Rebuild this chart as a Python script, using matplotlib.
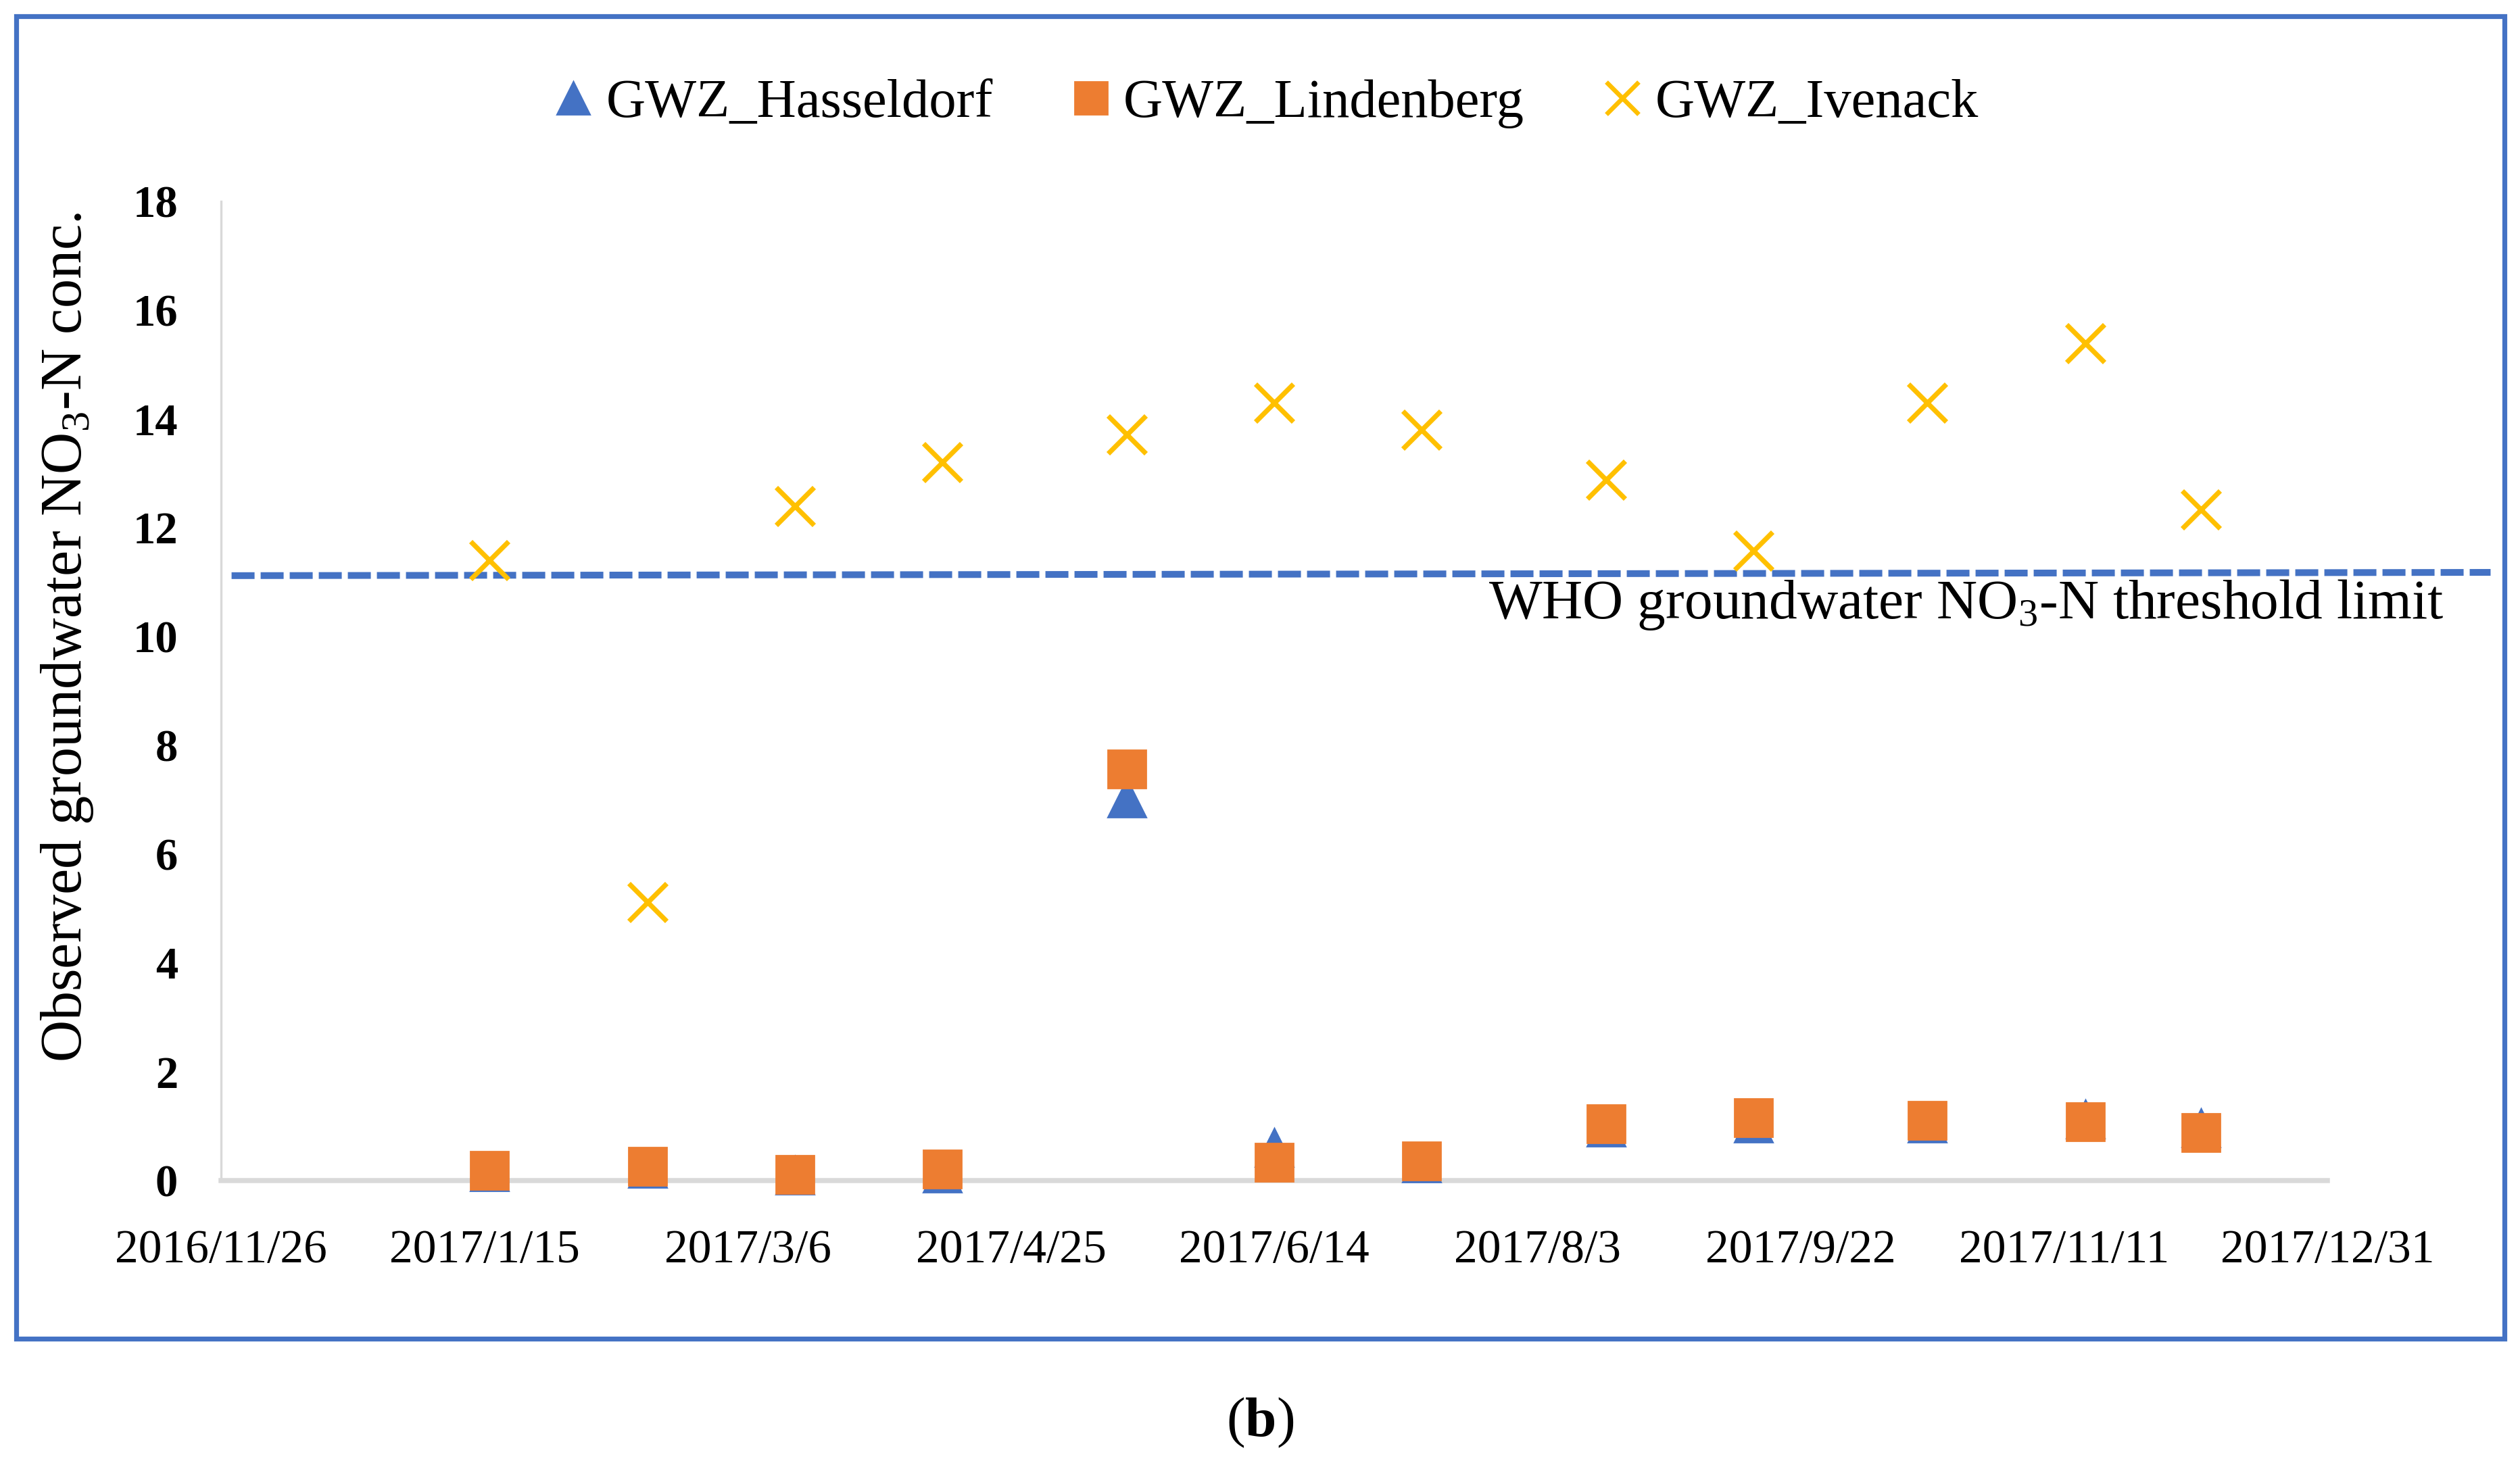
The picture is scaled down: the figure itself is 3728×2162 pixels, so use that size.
import matplotlib
matplotlib.use("Agg")
import matplotlib.pyplot as plt
from matplotlib.lines import Line2D
from matplotlib.patches import Rectangle
import datetime as dt

# ---------------- data ----------------
sample_dates = ["2017-01-16", "2017-02-15", "2017-03-15", "2017-04-12", "2017-05-17", "2017-06-14",
                "2017-07-12", "2017-08-16", "2017-09-13", "2017-10-16", "2017-11-15", "2017-12-07"]
hasseldorf = [0.16, 0.22, 0.10, 0.14, 7.03, 0.61, 0.32, 0.98, 1.05, 1.05, 1.13, 0.97]
lindenberg = [0.19, 0.26, 0.11, 0.21, 7.57, 0.33, 0.36, 1.04, 1.15, 1.11, 1.08, 0.88]
ivenack = [11.40, 5.12, 12.40, 13.20, 13.71, 14.30, 13.80, 12.88, 11.58, 14.30, 15.39, 12.34]
threshold_dates = ["2016-11-28", "2018-01-31"]
threshold_vals = [11.12, 11.18]
xtick_labels = ["2016/11/26", "2017/1/15", "2017/3/6", "2017/4/25", "2017/6/14",
                "2017/8/3", "2017/9/22", "2017/11/11", "2017/12/31"]
ytick_vals = [0, 2, 4, 6, 8, 10, 12, 14, 16, 18]
series_names = ["GWZ_Hasseldorf", "GWZ_Lindenberg", "GWZ_Ivenack"]

# ---------------- style ----------------
plt.rcParams["font.family"] = ["Liberation Serif", "DejaVu Serif"]
plt.rcParams["mathtext.fontset"] = "custom"
plt.rcParams["mathtext.rm"] = "Liberation Serif"
plt.rcParams["mathtext.bf"] = "Liberation Serif:bold"
plt.rcParams["mathtext.it"] = "Liberation Serif:italic"
plt.rcParams["mathtext.default"] = "regular"

BLUE = "#4472C4"
ORANGE = "#ED7D31"
GOLD = "#FFC000"
GRAY = "#D9D9D9"

W, H = 3728, 2162
DPI = 200
fig = plt.figure(figsize=(W / DPI, H / DPI), dpi=DPI)

ax_left, ax_right = 327 / W, 3443 / W
ax_bottom, ax_top = 1 - 1747 / H, 1 - 298 / H
ax = fig.add_axes([ax_left, ax_bottom, ax_right - ax_left, ax_top - ax_bottom])

def to_dt(s):
    return dt.datetime.strptime(s, "%Y-%m-%d")

xd = [to_dt(s) for s in sample_dates]
td = [to_dt(s) for s in threshold_dates]
tick_pos = [dt.datetime.strptime(s, "%Y/%m/%d") for s in xtick_labels]

ax.plot(td, threshold_vals, color=BLUE, lw=3.6, ls=(0, (3.4, 0.9)),
        dash_capstyle="butt", clip_on=False, zorder=2)

ax.plot(xd, hasseldorf, ls="none", marker="^", ms=20.5, color=BLUE, mec=BLUE,
        clip_on=False, zorder=3)
ax.plot(xd, lindenberg, ls="none", marker="s", ms=20.5, color=ORANGE, mec=ORANGE,
        clip_on=False, zorder=4)
ax.plot(xd, ivenack, ls="none", marker="x", ms=20, mew=2.6, color=GOLD,
        clip_on=False, zorder=5)

ax.set_xlim(tick_pos[0], tick_pos[-1])
ax.set_ylim(0, 18)
ax.set_xticks(tick_pos)
ax.set_xticklabels(xtick_labels)
ax.set_yticks(ytick_vals)
ax.set_yticklabels([str(v) for v in ytick_vals], fontweight="bold")
ax.tick_params(axis="x", length=0, pad=26, labelsize=25)
ax.tick_params(axis="y", length=0, pad=23, labelsize=24)

for s in ["top", "right"]:
    ax.spines[s].set_visible(False)
ax.spines["left"].set_color(GRAY)
ax.spines["left"].set_linewidth(1.2)
ax.spines["bottom"].set_color(GRAY)
ax.spines["bottom"].set_linewidth(2.7)
ax.spines["bottom"].set_zorder(1)

# y label
fig.text(100 / W, 1 - 943 / H, "Observed groundwater NO$_3$-N conc.", rotation=90,
         ha="center", va="center", fontsize=31)

# threshold annotation
fig.text(3615 / W, 1 - 895 / H, "WHO groundwater NO$_3$-N threshold limit",
         ha="right", va="center", fontsize=30)

# legend
handles = [
    Line2D([], [], ls="none", marker="^", ms=17, color=BLUE),
    Line2D([], [], ls="none", marker="s", ms=17, color=ORANGE),
    Line2D([], [], ls="none", marker="x", ms=17, mew=2.4, color=GOLD),
]
fig.legend(handles, series_names, loc="center", bbox_to_anchor=(0.503, 1 - 153 / H),
           ncol=3, frameon=False, fontsize=29, handlelength=0.6, handletextpad=0.3,
           columnspacing=1.5)

# (b)
fig.text(1864 / W, 1 - 2105 / H, r"($\mathbf{b}$)", ha="center", va="center", fontsize=30)

# outer frame
fig.patches.append(Rectangle((24 / W, 1 - 1981 / H), (3705 - 24) / W, (1981 - 24) / H,
                             transform=fig.transFigure, fill=False, edgecolor=BLUE,
                             linewidth=2.6, zorder=10))

fig.savefig("out.png", dpi=DPI)
